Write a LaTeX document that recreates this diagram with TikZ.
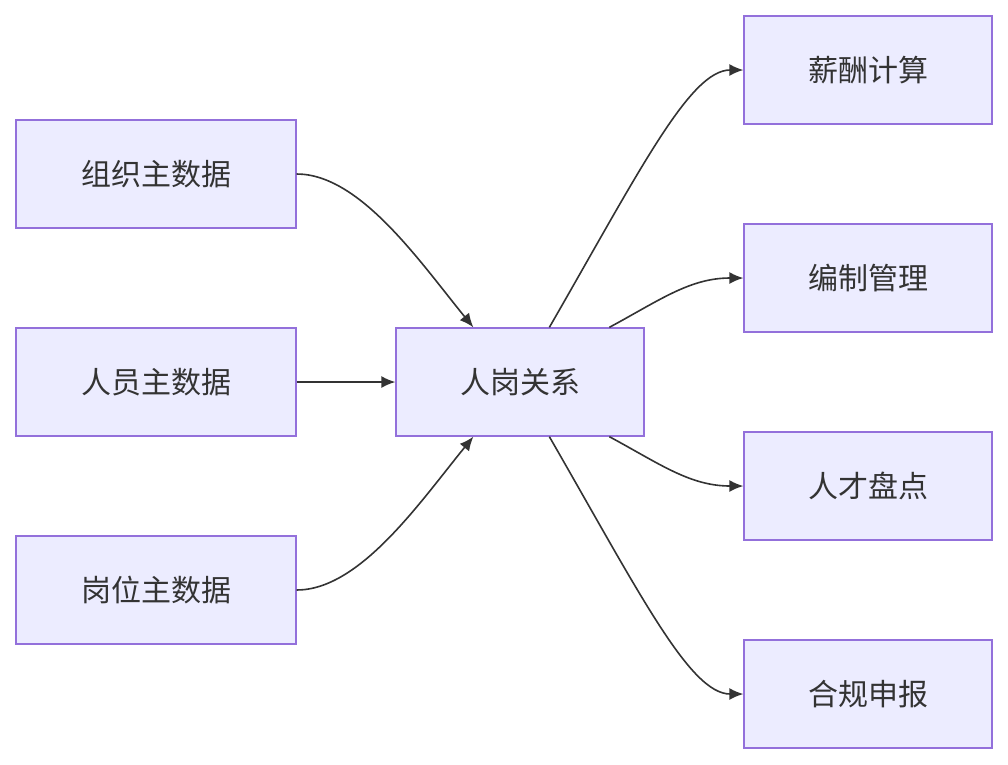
\documentclass[tikz,border=0pt]{standalone}
\usepackage{fontspec}
\newfontfamily\cjk{Noto Sans CJK SC}
\usetikzlibrary{arrows.meta}
\definecolor{nf}{HTML}{ECECFF}
\definecolor{nb}{HTML}{9370DB}
\definecolor{ln}{HTML}{333333}
\begin{document}
\begin{tikzpicture}[x=1pt,y=-1pt,
  box/.style={draw=nb,fill=nf,line width=1.3pt,minimum height=108pt,inner sep=0pt,font=\cjk\fontsize{30}{36}\selectfont,text=ln},
  lb/.style={box,minimum width=280pt},
  rb/.style={box,minimum width=248pt},
  e/.style={draw=ln,line width=1.6pt,-{Latex[length=14pt,width=12pt]}}]
\useasboundingbox (0,0) rectangle (1008,764);
\node[lb] (a) at (156,174) {组织主数据};
\node[lb] (b) at (156,382) {人员主数据};
\node[lb] (c) at (156,590) {岗位主数据};
\node[rb] (r) at (520,382) {人岗关系};
\node[rb] (s1) at (868,70) {薪酬计算};
\node[rb] (s2) at (868,278) {编制管理};
\node[rb] (s3) at (868,486) {人才盘点};
\node[rb] (s4) at (868,694) {合规申报};
\coordinate (rt) at ([xshift=78pt]r.north west);
\coordinate (rbm) at ([xshift=78pt]r.south west);
\coordinate (o1) at ([xshift=154pt]r.north west);
\coordinate (o2) at ([xshift=214pt]r.north west);
\coordinate (o3) at ([xshift=214pt]r.south west);
\coordinate (o4) at ([xshift=154pt]r.south west);
\draw[e] (a.east) .. controls (360,174) and (420,262) .. (rt);
\draw[e] (b.east) -- (r.west);
\draw[e] (c.east) .. controls (360,590) and (420,502) .. (rbm);
\draw[e] (o1) .. controls (640,170) and (690,70) .. (s1.west);
\draw[e] (o2) .. controls (660,300) and (690,278) .. (s2.west);
\draw[e] (o3) .. controls (660,464) and (690,486) .. (s3.west);
\draw[e] (o4) .. controls (640,594) and (690,694) .. (s4.west);
\end{tikzpicture}
\end{document}
